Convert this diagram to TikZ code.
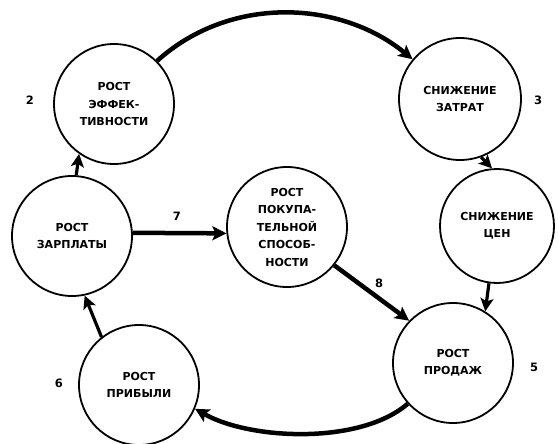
\documentclass[tikz,border=0pt]{standalone}
\usepackage{fontspec}
\setmainfont{DejaVu Sans}
\usetikzlibrary{arrows.meta}
\begin{document}
\begin{tikzpicture}[x=1pt,y=-1pt,
  state/.style={circle,draw,line width=1.8pt,minimum size=120pt,inner sep=0pt,align=center,
    font=\bfseries\fontsize{11}{17.5}\selectfont},
  num/.style={font=\bfseries\fontsize{11.5}{13}\selectfont},
  arr/.style={line width=3.2pt,-{Stealth[length=13pt,width=13pt,inset=3pt]}},
  thick arr/.style={line width=4.5pt,-{Stealth[length=14pt,width=14pt,inset=3pt]}}]
\useasboundingbox[fill=white] (0,0) rectangle (558,444);

\node[state] (eff)  at (114,104) {РОСТ\\ЭФФЕК-\\ТИВНОСТИ};
\node[state,minimum size=122pt] (zat)  at (460,99)  {СНИЖЕНИЕ\\ЗАТРАТ};
\node[state,minimum size=114pt] (cen)  at (497,226) {СНИЖЕНИЕ\\ЦЕН};
\node[state] (prod) at (453,363) {РОСТ\\ПРОДАЖ};
\node[state] (pok)  at (287,227) {РОСТ\\ПОКУПА-\\ТЕЛЬНОЙ\\СПОСОБ-\\НОСТИ};
\node[state] (zar)  at (72,236)  {РОСТ\\ЗАРПЛАТЫ};
\node[state] (prib) at (139,385) {РОСТ\\ПРИБЫЛИ};

\node[num] (n2) at (30,100)  {2};
\node[num] (n3) at (538,100) {3};
\node[num] (n5) at (534,367) {5};
\node[num] (n6) at (59,383)  {6};
\node[num] (n7) at (177,216) {7};
\node[num] (n8) at (379,283) {8};

\draw[thick arr] (eff.45) .. controls (230,-5) and (340,0) .. (zat.140);
\draw[arr] (zat.290) -- (cen.95);
\draw[arr] (cen.262) -- (prod.58);
\draw[thick arr] (pok.-39) -- (prod.136);
\draw[thick arr] (prod.222) .. controls (360,445) and (250,440) .. (prib.-23);
\draw[arr] (prib.128) -- (zar.282);
\draw[arr] (zar.86) -- (eff.235);
\draw[thick arr] (zar.3) -- (pok.186);
\end{tikzpicture}
\end{document}
